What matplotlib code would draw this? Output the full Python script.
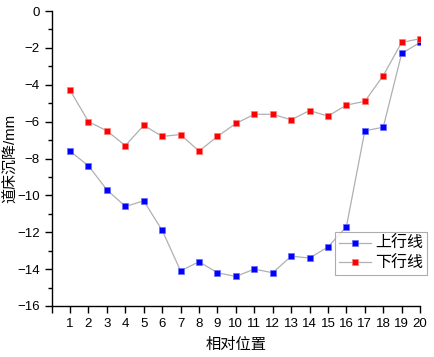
import matplotlib.pyplot as plt
import numpy as np

plt.rcParams['font.family'] = ['Liberation Sans', 'Noto Sans CJK SC']

positions = list(range(1, 21))
up_line = [-7.6, -8.4, -9.7, -10.6, -10.3, -11.9, -14.1, -13.6, -14.2, -14.4,
           -14.0, -14.2, -13.3, -13.4, -12.8, -11.7, -6.5, -6.3, -2.3, -1.7]
down_line = [-4.3, -6.0, -6.5, -7.3, -6.2, -6.8, -6.7, -7.6, -6.8, -6.1,
             -5.6, -5.6, -5.9, -5.4, -5.7, -5.1, -4.9, -3.5, -1.7, -1.5]

fig = plt.figure(figsize=(4.34, 3.57), dpi=100)
ax = fig.add_axes([0.119, 0.143, 0.849, 0.826])

ax.plot(positions, up_line, '-s', color='#b0b0b0', lw=0.9,
        mfc='#0000ff', mec='#6a6aff', mew=0.5, ms=5, label='上行线')
ax.plot(positions, down_line, '-s', color='#b0b0b0', lw=0.9,
        mfc='#ff0000', mec='#ff7a7a', mew=0.5, ms=5, label='下行线')

ax.set_xlim(0, 20)
ax.set_ylim(-16, 0)
ax.set_xticks(range(0, 21))
ax.set_xticklabels([''] + [str(p) for p in positions])
ax.set_yticks(np.arange(-16, 1, 2))
ax.set_yticks(np.arange(-15, 0, 2), minor=True)
ax.tick_params(which='major', direction='out', length=5, width=1, labelsize=9.5)
ax.tick_params(which='minor', direction='out', length=3, width=1)

ax.spines['top'].set_visible(False)
ax.spines['right'].set_visible(False)
for s in ['left', 'bottom']:
    ax.spines[s].set_linewidth(1)

ax.set_xlabel('相对位置', fontsize=11, labelpad=6)
fig.text(10 / 434, 1 - 158.5 / 357, '道床沉降/mm', fontsize=10.8, rotation=90,
         ha='center', va='center')

leg = ax.legend(loc='lower right', bbox_to_anchor=(1.02, 0.105), fontsize=11.5,
                frameon=True, fancybox=False, borderpad=0.25, handlelength=2.0,
                handletextpad=0.3, labelspacing=0.3, borderaxespad=0)
leg.get_frame().set_edgecolor('#999999')
leg.get_frame().set_linewidth(0.8)

fig.savefig('out.png', dpi=100)
